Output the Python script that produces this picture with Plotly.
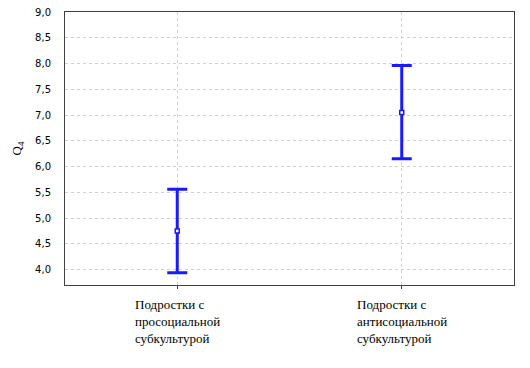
import plotly.graph_objects as go

categories = ["Подростки с<br>просоциальной<br>субкультурой",
              "Подростки с<br>антисоциальной<br>субкультурой"]
means = [4.75, 7.05]
upper = [5.56, 7.96]
lower = [3.94, 6.15]
y_ticks = [4.0, 4.5, 5.0, 5.5, 6.0, 6.5, 7.0, 7.5, 8.0, 8.5, 9.0]
y_tick_labels = ["4,0", "4,5", "5,0", "5,5", "6,0", "6,5", "7,0", "7,5", "8,0", "8,5", "9,0"]

xs = list(range(len(categories)))
err_plus = [u - m for u, m in zip(upper, means)]
err_minus = [m - l for m, l in zip(means, lower)]

fig = go.Figure()
fig.add_trace(go.Scatter(
    x=xs, y=means, mode="markers",
    marker=dict(symbol="square", size=4, color="white",
                line=dict(color="#1a1aff", width=1.5)),
    error_y=dict(type="data", symmetric=False, array=err_plus, arrayminus=err_minus,
                 color="#1a1aff", thickness=3, width=10),
    showlegend=False,
))

for x, c in zip(xs, categories):
    fig.add_annotation(x=x, y=0, xref="x", yref="paper", yshift=-10,
                       text=c, showarrow=False, align="left",
                       xanchor="center", yanchor="top",
                       font=dict(family="Liberation Serif", size=13, color="black"))

fig.update_layout(
    width=530, height=368,
    margin=dict(l=65, r=16, t=12, b=83, autoexpand=False),
    paper_bgcolor="white", plot_bgcolor="white",
    xaxis=dict(range=[-0.5, 1.5], tickvals=xs, showticklabels=False,
               showgrid=True, gridcolor="#d2d2d2", griddash="dot", gridwidth=1,
               showline=True, linecolor="#404040", linewidth=1, mirror=True,
               ticks="outside", ticklen=3, tickcolor="#404040", zeroline=False),
    yaxis=dict(range=[3.7, 9.0], tickvals=y_ticks, ticktext=y_tick_labels,
               showgrid=True, gridcolor="#d2d2d2", griddash="dot", gridwidth=1,
               showline=True, linecolor="#404040", linewidth=1, mirror=True,
               ticks="", ticklabelstandoff=11, zeroline=False,
               tickfont=dict(family="DejaVu Sans", size=10, color="black"),
               title=dict(text="Q<sub>4</sub>", standoff=10,
                          font=dict(family="Liberation Serif", size=13, color="black"))),
)

fig.write_html("out.html", config={"displayModeBar": False},
               post_script="document.body.style.margin='0';")
